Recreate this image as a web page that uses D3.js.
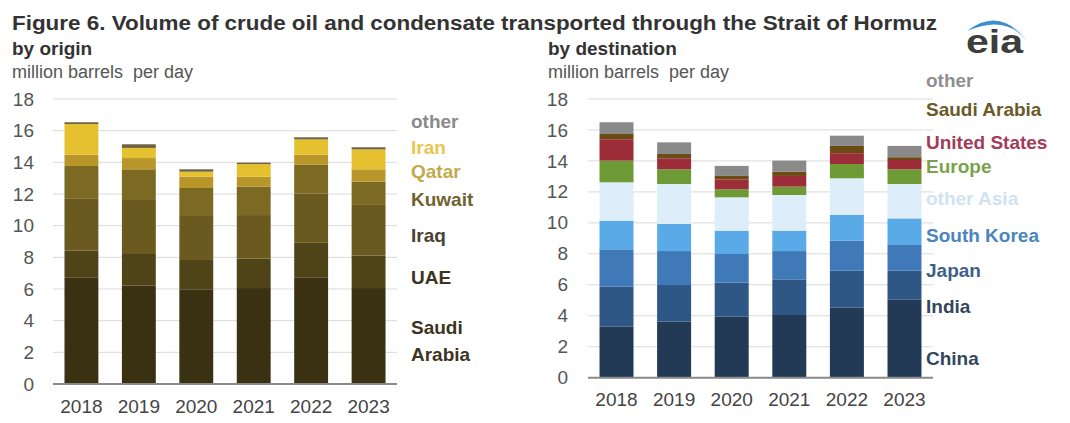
<!DOCTYPE html>
<html>
<head>
<meta charset="utf-8">
<script src="https://cdn.jsdelivr.net/npm/d3@7"></script>
<style>
  body { margin: 0; background: #fff; }
  svg { font-family: "Liberation Sans", Arial, sans-serif; }
</style>
</head>
<body>
<svg id="chart" width="1070" height="423"></svg>
<script>
// ===============================
// DATA
// ===============================

const years = ["2018", "2019", "2020", "2021", "2022", "2023"];
const yTicks = [0, 2, 4, 6, 8, 10, 12, 14, 16, 18];

// by origin (million b/d), bottom to top
const originKeys = ["Saudi Arabia", "UAE", "Iraq", "Kuwait", "Qatar", "Iran", "other"];
const saudiArabia = [6.74, 6.21, 5.98, 6.06, 6.74, 6.06];
const uae         = [1.68, 2.00, 1.85, 1.86, 2.21, 2.05];
const iraq        = [3.31, 3.41, 2.78, 2.75, 3.09, 3.20];
const kuwait      = [2.04, 1.94, 1.77, 1.79, 1.81, 1.47];
const qatar       = [0.71, 0.71, 0.71, 0.63, 0.63, 0.78];
const iran        = [1.94, 0.64, 0.32, 0.80, 0.97, 1.26];
const otherOrigin = [0.11, 0.23, 0.15, 0.09, 0.13, 0.13];

// by destination (million b/d), bottom to top
const destKeys = ["China", "India", "Japan", "South Korea", "other Asia", "Europe", "United States", "Saudi Arabia", "other"];
const china       = [3.29, 3.62, 3.94, 4.05, 4.52, 5.06];
const india       = [2.59, 2.37, 2.20, 2.30, 2.39, 1.85];
const japan       = [2.41, 2.19, 1.85, 1.83, 1.94, 1.66];
const southKorea  = [1.85, 1.75, 1.51, 1.32, 1.66, 1.72];
const otherAsia   = [2.48, 2.58, 2.15, 2.30, 2.37, 2.22];
const europe      = [1.40, 0.95, 0.52, 0.54, 0.92, 0.95];
const unitedStates= [1.38, 0.71, 0.64, 0.69, 0.70, 0.60];
const saudiDest   = [0.34, 0.28, 0.22, 0.28, 0.47, 0.18];
const otherDest   = [0.76, 0.75, 0.65, 0.71, 0.66, 0.73];

const originSeries = [saudiArabia, uae, iraq, kuwait, qatar, iran, otherOrigin];
const destSeries = [china, india, japan, southKorea, otherAsia, europe, unitedStates, saudiDest, otherDest];

// ===============================
// STYLE
// ===============================

const originColors = ["#3a3112", "#4f4418", "#6b5a20", "#7c6a22", "#b8962a", "#e6c12f", "#6e6240"];
const originText   = ["#3c3522", "#3c3522", "#4a4230", "#6e6230", "#c4a94e", "#e9c650", "#8a8a8a"];
const originLabels = [["Saudi", "Arabia"], ["UAE"], ["Iraq"], ["Kuwait"], ["Qatar"], ["Iran"], ["other"]];
const originLabelY = [334, 284, 242, 206, 178, 154, 128];

const destColors = ["#223a55", "#2e5785", "#4079b8", "#5aaae8", "#ddeefa", "#6e9a35", "#9e2d3a", "#6b4a13", "#8a8a8a"];
const destText   = ["#34465e", "#34465e", "#3d5f8a", "#4a86bd", "#cfe3f3", "#7aa24a", "#a33c58", "#6b5a2a", "#8f8f8f"];
const destLabelY = [365, 313, 277, 242, 205, 173, 149, 116, 87];

const svg = d3.select("#chart");

// ===============================
// TITLES
// ===============================

svg.append("text")
    .attr("x", 12).attr("y", 30)
    .attr("font-size", 20).attr("font-weight", "bold").attr("fill", "#333")
    .attr("textLength", 925).attr("lengthAdjust", "spacingAndGlyphs")
    .text("Figure 6. Volume of crude oil and condensate transported through the Strait of Hormuz");

function panelHeader(x, title){
    svg.append("text")
        .attr("x", x).attr("y", 55)
        .attr("font-size", 19).attr("font-weight", "bold").attr("fill", "#333")
        .text(title);
    svg.append("text")
        .attr("x", x).attr("y", 78)
        .attr("font-size", 18).attr("fill", "#555")
        .attr("xml:space", "preserve")
        .text("million barrels  per day");
}

panelHeader(12, "by origin");
panelHeader(548, "by destination");

// eia logo
svg.append("path")
    .attr("d", "M967,31 Q1000,6 1027,41 Q1006,14 967,31 Z")
    .attr("fill", "#3a8fd0");
svg.append("text")
    .attr("x", 966).attr("y", 53)
    .attr("font-size", 34).attr("font-weight", "bold").attr("fill", "#3d3d3d")
    .attr("textLength", 57).attr("lengthAdjust", "spacingAndGlyphs")
    .text("eia");

// ===============================
// STACKED BAR PANEL
// ===============================

function drawPanel(opt){

    const table = years.map((yr, i) => {
        const row = { year: yr };
        opt.keys.forEach((k, j) => { row[j] = opt.series[j][i]; });
        return row;
    });

    const stack = d3.stack().keys(opt.keys.map((k, j) => j));
    const layers = stack(table);

    const x = d3.scaleBand()
        .domain(years)
        .range([opt.x0, opt.x1])
        .paddingInner(0.41)
        .paddingOuter(0.2);

    const y = d3.scaleLinear()
        .domain([0, 18])
        .range([opt.yBase, 99]);

    const g = svg.append("g");

    // gridlines
    g.selectAll(".grid")
        .data(yTicks.filter(t => t > 0))
        .enter()
        .append("line")
        .attr("x1", opt.x0).attr("x2", opt.x1)
        .attr("y1", d => y(d)).attr("y2", d => y(d))
        .attr("stroke", "#d9d9d9").attr("stroke-width", 1);

    // bars
    g.selectAll(".layer")
        .data(layers)
        .enter()
        .append("g")
        .attr("fill", (d, j) => opt.colors[j])
        .selectAll("rect")
        .data(d => d)
        .enter()
        .append("rect")
        .attr("x", d => x(d.data.year))
        .attr("width", x.bandwidth())
        .attr("y", d => y(d[1]))
        .attr("height", d => y(d[0]) - y(d[1]));

    // baseline
    g.append("line")
        .attr("x1", opt.x0).attr("x2", opt.x1)
        .attr("y1", y(0)).attr("y2", y(0))
        .attr("stroke", "#8a8a8a").attr("stroke-width", 2);

    // y axis labels
    const yAxis = d3.axisLeft(y).tickValues(yTicks).tickSize(0).tickPadding(0);
    const ya = g.append("g")
        .attr("transform", `translate(${opt.yLabelX},0)`)
        .call(yAxis);
    ya.select(".domain").remove();
    ya.selectAll("text")
        .attr("font-size", 19).attr("fill", "#555")
        .attr("font-family", "Liberation Sans, Arial, sans-serif");

    // x axis labels
    const xAxis = d3.axisBottom(x).tickSize(0).tickPadding(0);
    const xa = g.append("g")
        .attr("transform", `translate(0,${y(0) + 15})`)
        .call(xAxis);
    xa.select(".domain").remove();
    xa.selectAll("text")
        .attr("font-size", 19).attr("fill", "#444")
        .attr("font-family", "Liberation Sans, Arial, sans-serif");

    // legend labels
    opt.labels.forEach((lines, j) => {
        const t = g.append("text")
            .attr("x", opt.legendX)
            .attr("y", opt.labelY[j])
            .attr("font-size", 19)
            .attr("font-weight", "bold")
            .attr("fill", opt.textColors[j]);
        lines.forEach((line, k) => {
            t.append("tspan")
                .attr("x", opt.legendX)
                .attr("dy", k === 0 ? 0 : 27)
                .text(line);
        });
    });

}

drawPanel({
    keys: originKeys,
    series: originSeries,
    colors: originColors,
    textColors: originText,
    labels: originLabels,
    labelY: originLabelY,
    x0: 53, x1: 397,
    yBase: 384,
    yLabelX: 34,
    legendX: 411
});

drawPanel({
    keys: destKeys,
    series: destSeries,
    colors: destColors,
    textColors: destText,
    labels: destKeys.map(k => [k]),
    labelY: destLabelY,
    x0: 588, x1: 933,
    yBase: 377.7,
    yLabelX: 568,
    legendX: 926
});

</script>
</body>
</html>
